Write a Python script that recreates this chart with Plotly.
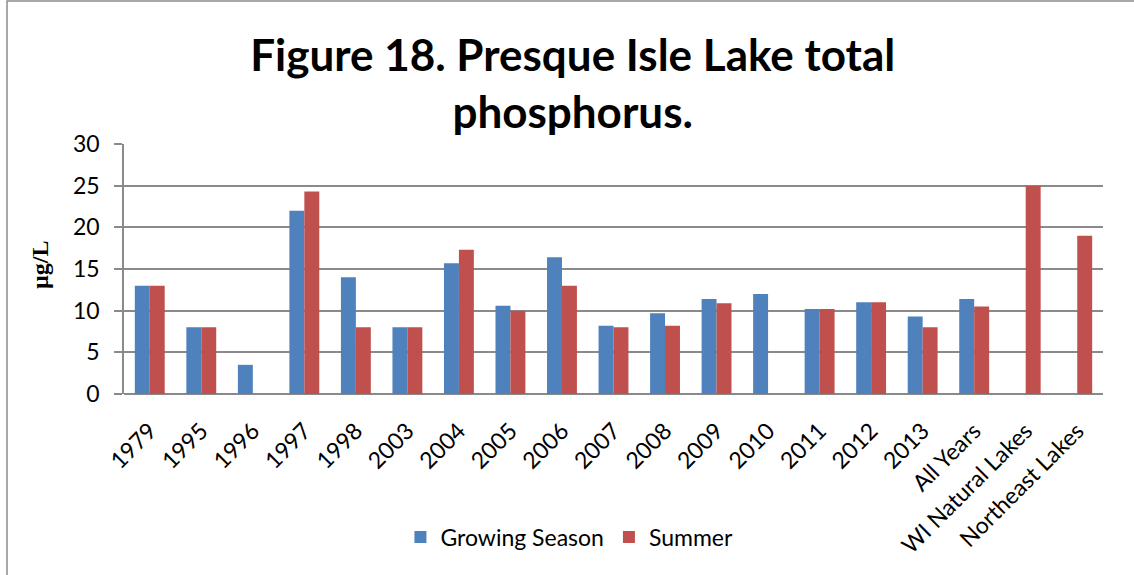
import plotly.graph_objects as go

categories = ["1979", "1995", "1996", "1997", "1998", "2003", "2004", "2005", "2006",
              "2007", "2008", "2009", "2010", "2011", "2012", "2013", "All Years",
              "WI Natural Lakes", "Northeast Lakes"]
growing_season = [13, 8, 3.5, 22, 14, 8, 15.7, 10.6, 16.4, 8.2, 9.7, 11.4, 12, 10.2, 11,
                  9.3, 11.4, None, None]
summer = [13, 8, None, 24.3, 8, 8, 17.3, 10, 13, 8, 8.2, 10.9, None, 10.2, 11, 8,
          10.5, 25, 19]
y_ticks = [0, 5, 10, 15, 20, 25, 30]

FONT = "Lato"
GRID = "#8a8a8a"

fig = go.Figure()
fig.add_trace(go.Bar(name="Growing Season", x=categories, y=growing_season,
                     marker=dict(color="#4F81BD", line=dict(width=0))))
fig.add_trace(go.Bar(name="Summer", x=categories, y=summer,
                     marker=dict(color="#C0504D", line=dict(width=0))))

fig.update_layout(
    width=1134, height=575,
    margin=dict(l=124, r=31, t=144, b=181),
    paper_bgcolor="white", plot_bgcolor="white",
    barmode="group", bargap=0.42, bargroupgap=0,
    font=dict(family=FONT, color="black", size=20),
    title=dict(text="<b>Figure 18. Presque Isle Lake total<br>phosphorus.</b>",
               x=0.505, xanchor="center", y=0.877, yanchor="middle",
               font=dict(family=FONT, size=44, color="black")),
    showlegend=True,
    legend=dict(orientation="h", x=0.455, xanchor="center", y=-0.572, yanchor="middle",
                font=dict(family=FONT, size=23), itemwidth=30,
                traceorder="normal", bgcolor="rgba(0,0,0,0)"),
    xaxis=dict(tickangle=-45, tickfont=dict(family=FONT, size=23),
               ticklabelstandoff=18,
               showgrid=False, showline=False, ticks="", zeroline=False),
    yaxis=dict(range=[0, 30], tickvals=y_ticks, tickfont=dict(family=FONT, size=23),
               ticklabelstandoff=10,
               showgrid=True, gridcolor=GRID, gridwidth=1.5,
               showline=True, linecolor=GRID, linewidth=1.5,
               ticks="outside", ticklen=8, tickcolor=GRID, tickwidth=1.5,
               zeroline=True, zerolinecolor=GRID, zerolinewidth=1.5),
)

# y-axis title in a bold serif face
fig.add_annotation(text="<b>µg/L</b>", xref="paper", yref="paper",
                   x=-0.0858, y=0.516, xanchor="center", yanchor="middle",
                   textangle=-90, showarrow=False,
                   font=dict(family="Liberation Serif", size=24, color="black"))

# outer chart-area border
fig.add_shape(type="rect", xref="paper", yref="paper",
              x0=-0.1195, y0=-0.75, x1=1.04, y1=1.572,
              line=dict(color="#8c8c8c", width=1.5), fillcolor="rgba(0,0,0,0)",
              layer="below")

fig.write_html("out.html")
